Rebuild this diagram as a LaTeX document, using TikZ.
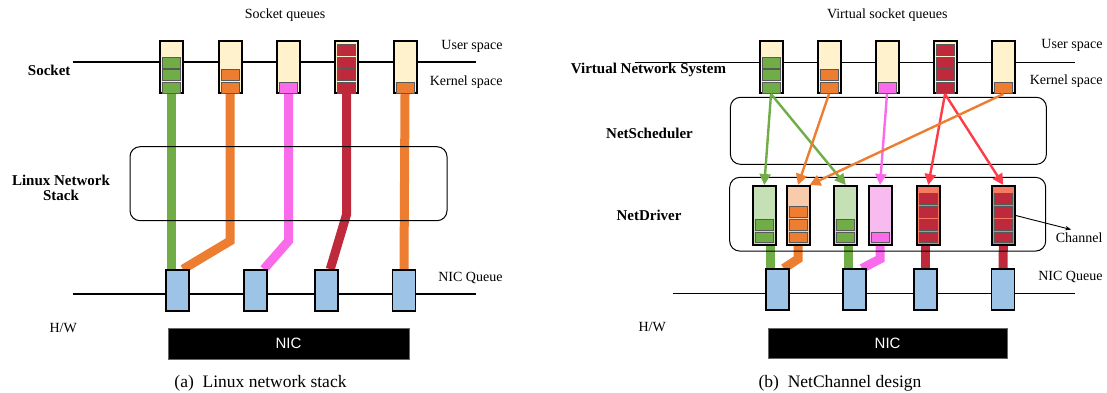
\documentclass[tikz,border=0pt]{standalone}
\usepackage{fontspec}
\setmainfont{Liberation Serif}
\newfontfamily\nicfont{Liberation Sans}
\usetikzlibrary{positioning, arrows.meta, backgrounds, calc}

\definecolor{qcream}{HTML}{FFF2CC}
\definecolor{pgreen}{HTML}{70AD47}
\definecolor{porange}{HTML}{ED7D31}
\definecolor{ppink}{HTML}{FA6BEB}
\definecolor{pred}{HTML}{BE2A3C}
\definecolor{ared}{HTML}{FF3B4A}
\definecolor{nicblue}{HTML}{9DC3E6}
\definecolor{lgreen}{HTML}{C5E0B4}
\definecolor{lorange}{HTML}{F8CBAD}
\definecolor{lpink}{HTML}{F8BBEF}
\definecolor{salmon}{HTML}{F47A62}

\begin{document}
\begin{tikzpicture}[x=1pt,y=-1pt,
    sockq/.style={draw, line width=2pt, fill=qcream, minimum width=23pt, minimum height=52pt, inner sep=0pt},
    chan/.style={draw, line width=2pt, minimum width=23pt, minimum height=59pt, inner sep=0pt},
    pkt/.style={draw=black!65, line width=0.7pt, minimum width=18pt, minimum height=11pt, inner sep=0pt},
    cpkt/.style={pkt, minimum height=10.5pt},
    nicq/.style={draw, line width=1.6pt, fill=nicblue, minimum width=23pt, minimum height=41pt, inner sep=0pt},
    nicbox/.style={fill=black, draw=black!60, text=white, font=\nicfont\fontsize{15}{17}\selectfont, inner sep=0pt},
    layerbox/.style={draw, line width=1pt, rounded corners=10pt, inner sep=0pt},
    txt/.style={font=\fontsize{14}{16}\selectfont},
    lbl/.style={font=\fontsize{15}{17}\selectfont\bfseries, align=center},
    capt/.style={font=\fontsize{17.5}{20}\selectfont},
    pipe/.style={line width=9pt},
    flowarrow/.style={line width=2.4pt, -{Triangle[length=11pt,width=11pt]}},
    sepline/.style={line width=1.4pt}]
  \useasboundingbox (0,0) rectangle (1107,392);

  % ---------- (a) Linux network stack ----------
  \foreach \i/\x in {1/171,2/230,3/288.5,4/346.7,5/405}
    \node[sockq] (qa\i) at (\x,67) {};
  \foreach \i/\c/\n in {1/pgreen/3,2/porange/2,3/ppink/1,4/pred/4,5/porange/1}
    \foreach \k in {1,...,\n}
      \node[pkt, fill=\c] (pa\i\k) at ([yshift={6.3pt+12.6pt*(\k-1)}]qa\i.south) {};
  \foreach \i/\x in {1/177.6,2/255.5,3/326.2,4/404}
    \node[nicq] (na\i) at (\x,290.5) {};
  \node[layerbox, minimum width=317pt, minimum height=74pt] (stack) at (288.5,183.7) {};
  \node[nicbox, minimum width=241.6pt, minimum height=30.7pt] (nica) at (288.5,343.7) {NIC};

  \coordinate (ua-l) at (73,62);   \coordinate (ua-r) at (476,62);
  \coordinate (ha-l) at (73,294);  \coordinate (ha-r) at (476,294);

  \node[txt] (sqa) at (285,15) {Socket queues};
  \node[txt, anchor=east] (usra) at (506,46) {User space};
  \node[txt, anchor=east] (kera) at (506,82) {Kernel space};
  \node[txt, anchor=east] (nqa) at (506,278) {NIC Queue};
  \node[txt, anchor=west] (hwa) at (46,328) {H/W};
  \node[lbl, anchor=east] (sock) at (74,70) {Socket};
  \node[lbl] (lns) at (61,188) {Linux Network\\[-2pt]Stack};
  \node[capt] (capa) at (260.5,383) {(a)\enspace Linux network stack};

  \begin{pgfonlayer}{background}
    \draw[sepline] (ua-l) -- (ua-r);
    \draw[sepline] (ha-l) -- (ha-r);
    \draw[pipe, pgreen] (qa1.south) -- (qa1.south |- na1.north);
    \draw[pipe, porange] (qa2.south) -- ++(0,147) -- ([xshift=-7pt]na1.north east);
    \draw[pipe, ppink] (qa3.south) -- ++(0,147) -- ([xshift=-4pt]na2.north east);
    \draw[pipe, pred] (qa4.south) -- ++(0,120) -- ([xshift=4pt]na3.north);
    \draw[pipe, porange] (qa5.south) -- (na4.north);
  \end{pgfonlayer}

  % ---------- (b) NetChannel design ----------
  \foreach \i/\x in {1/771,2/829,3/887,4/945,5/1003.5}
    \node[sockq] (qb\i) at (\x,67) {};
  \foreach \i/\c/\n in {1/pgreen/3,2/porange/2,3/ppink/1,4/pred/4,5/porange/1}
    \foreach \k in {1,...,\n}
      \node[pkt, fill=\c] (pb\i\k) at ([yshift={6.3pt+12.6pt*(\k-1)}]qb\i.south) {};
  \node[layerbox, minimum width=316pt, minimum height=67pt] (sched) at (888.4,130.8) {};
  \node[layerbox, minimum width=316pt, minimum height=73.7pt] (drv) at (887.7,214.2) {};
  \foreach \i/\x/\f in {1/764.3/lgreen,2/798/lorange,3/845.8/lgreen,4/880/lpink,5/928.3/salmon,6/1003.3/salmon}
    \node[chan, fill=\f] (ch\i) at (\x,215.5) {};
  \foreach \i/\c/\n in {1/pgreen/2,2/porange/3,3/pgreen/2,4/ppink/1,5/pred/4,6/pred/4}
    \foreach \k in {1,...,\n}
      \node[cpkt, fill=\c] (cp\i\k) at ([yshift={8.6pt+12.8pt*(\k-1)}]ch\i.south) {};
  \foreach \i/\x in {1/777.4,2/854.6,3/925.6,4/1003}
    \node[nicq] (nb\i) at (\x,289.7) {};
  \node[nicbox, minimum width=239.7pt, minimum height=29.4pt] (nicb) at (887.6,343) {NIC};

  \coordinate (ub-l) at (634.5,62.3);  \coordinate (ub-r) at (1074.7,62.3);
  \coordinate (hb-l) at (673.3,293.7); \coordinate (hb-r) at (1074.7,293.7);

  \node[txt] (sqb) at (887.3,15) {Virtual socket queues};
  \node[txt, anchor=east] (usrb) at (1106,45) {User space};
  \node[txt, anchor=east] (kerb) at (1106,81) {Kernel space};
  \node[txt, anchor=east] (nqb) at (1106,277) {NIC Queue};
  \node[txt, anchor=east] (chlbl) at (1106,238) {Channel};
  \node[txt, anchor=west] (hwb) at (635,327) {H/W};
  \node[lbl] (vns) at (648.5,70) {Virtual Network System};
  \node[lbl] (nsch) at (649.5,133) {NetScheduler};
  \node[lbl] (ndrv) at (649,215) {NetDriver};
  \node[capt] (capb) at (840,383) {(b)\enspace NetChannel design};

  \begin{pgfonlayer}{background}
    \draw[sepline] (ub-l) -- (ub-r);
    \draw[sepline] (hb-l) -- (hb-r);
    \draw[pipe, pgreen] ([xshift=5pt]nb1.north west) -- ([xshift=5pt]nb1.north west |- ch1.south);
    \draw[pipe, porange] (ch2.south) -- ++(0,13) -- ([xshift=-6pt]nb1.north east);
    \draw[pipe, pgreen] ([xshift=6pt]nb2.north west) -- ([xshift=6pt]nb2.north west |- ch3.south);
    \draw[pipe, ppink] (ch4.south) -- ++(0,13) -- ([xshift=-5pt]nb2.north east);
    \draw[pipe, pred] (nb3.north) -- (nb3.north |- ch5.south);
    \draw[pipe, pred] (ch6.south) -- (nb4.north);
  \end{pgfonlayer}

  \draw[flowarrow, pgreen] (qb1.south) -- (ch1.north);
  \draw[flowarrow, pgreen] (qb1.south) -- (ch3.north);
  \draw[flowarrow, porange] (qb2.south) -- (ch2.north);
  \draw[flowarrow, ppink] (qb3.south) -- (ch4.north);
  \draw[flowarrow, ared] (qb4.south) -- (ch5.north);
  \draw[flowarrow, ared] (qb4.south) -- (ch6.north);
  \draw[flowarrow, porange] (qb5.south) -- ([xshift=-1pt]ch2.north east);
  \draw[-{Stealth[length=6pt]}, line width=0.9pt] (ch6.east) -- ([xshift=-8pt]chlbl.north);
\end{tikzpicture}
\end{document}
